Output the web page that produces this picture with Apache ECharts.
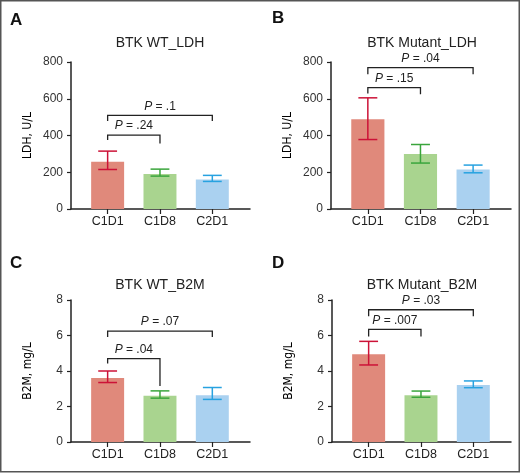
<!DOCTYPE html>
<html>
<head>
<meta charset="utf-8">
<script src="https://cdn.jsdelivr.net/npm/echarts@6/dist/echarts.min.js"></script>
<style>
  html, body { margin: 0; padding: 0; background: #fff; }
  #chart { width: 520px; height: 474px; }
</style>
</head>
<body>
<div id="chart"></div>
<script>
// categories on the x axis
var categories = ['C1D1', 'C1D8', 'C2D1'];

// panel A: BTK WT, LDH (U/L)
var wtLdhMean = [257, 190, 161];
var wtLdhLow = [215, 179, 150];
var wtLdhHigh = [315, 217, 183];
// panel B: BTK Mutant, LDH
var mutLdhMean = [489, 299, 215];
var mutLdhLow = [378, 250, 197];
var mutLdhHigh = [605, 351, 239];
// panel C: BTK WT, B2M (mg/L)
var wtB2mMean = [3.6, 2.6, 2.64];
var wtB2mLow = [3.35, 2.47, 2.4];
var wtB2mHigh = [4.0, 2.88, 3.07];
// panel D: BTK Mutant, B2M
var mutB2mMean = [4.94, 2.63, 3.21];
var mutB2mLow = [4.34, 2.52, 3.06];
var mutB2mHigh = [5.67, 2.87, 3.44];

// comparison brackets: C1D1 vs C1D8, C1D1 vs C2D1
var bracketTo = [1, 2];
var wtLdhBracketY = [402, 510];
var wtLdhLegLeft = [375, 479];
var wtLdhLegRight = [357, 479];
var wtLdhP = ['.24', '.1'];

var mutLdhBracketY = [661, 769];
var mutLdhLegLeft = [628, 733];
var mutLdhLegRight = [624, 733];
var mutLdhP = ['.15', '.04'];

var wtB2mBracketY = [4.7, 6.25];
var wtB2mLegLeft = [4.42, 5.92];
var wtB2mLegRight = [3.16, 5.92];
var wtB2mP = ['.04', '.07'];

var mutB2mBracketY = [6.35, 7.45];
var mutB2mLegLeft = [5.95, 7.08];
var mutB2mLegRight = [5.95, 7.08];
var mutB2mP = ['.007', '.03'];

var yTicksLdh = [0, 800, 200];
var yTicksB2m = [0, 8, 2];

var barColors = ['#e0897b', '#a9d48f', '#aad1f0'];
var errColors = ['#cc1237', '#3aa53c', '#27a2e0'];

var myChart = echarts.init(document.getElementById('chart'));

var panels = [
  { letter: 'A', title: 'BTK WT_LDH', yName: 'LDH, U/L', y: yTicksLdh, mean: wtLdhMean, lo: wtLdhLow, hi: wtLdhHigh,
    by: wtLdhBracketY, bl: wtLdhLegLeft, br: wtLdhLegRight, p: wtLdhP,
    grid: { left: 71, top: 62, width: 179, height: 147 }, lx: 10, ly: 12, tx: 160, ty: 36 },
  { letter: 'B', title: 'BTK Mutant_LDH', yName: 'LDH, U/L', y: yTicksLdh, mean: mutLdhMean, lo: mutLdhLow, hi: mutLdhHigh,
    by: mutLdhBracketY, bl: mutLdhLegLeft, br: mutLdhLegRight, p: mutLdhP,
    grid: { left: 331, top: 62, width: 180, height: 147 }, lx: 272, ly: 10, tx: 422, ty: 36 },
  { letter: 'C', title: 'BTK WT_B2M', yName: 'B2M, mg/L', y: yTicksB2m, mean: wtB2mMean, lo: wtB2mLow, hi: wtB2mHigh,
    by: wtB2mBracketY, bl: wtB2mLegLeft, br: wtB2mLegRight, p: wtB2mP,
    grid: { left: 71, top: 300, width: 179, height: 142 }, lx: 10, ly: 255, tx: 160, ty: 278 },
  { letter: 'D', title: 'BTK Mutant_B2M', yName: 'B2M, mg/L', y: yTicksB2m, mean: mutB2mMean, lo: mutB2mLow, hi: mutB2mHigh,
    by: mutB2mBracketY, bl: mutB2mLegLeft, br: mutB2mLegRight, p: mutB2mP,
    grid: { left: 332, top: 300, width: 179, height: 142 }, lx: 272, ly: 255, tx: 422, ty: 278 }
];

var grids = [], xAxes = [], yAxes = [], series = [], titles = [];

panels.forEach(function (pn, i) {
  grids.push(pn.grid);
  titles.push({
    text: pn.letter, left: pn.lx, top: pn.ly, padding: 0,
    textStyle: { fontFamily: 'Liberation Sans', fontWeight: 'bold', fontSize: 17, color: '#111' }
  });
  titles.push({
    text: pn.title, left: pn.tx, top: pn.ty, textAlign: 'center', padding: 0,
    textStyle: { fontFamily: 'Liberation Sans', fontWeight: 'normal', fontSize: 14, color: '#222' }
  });
  xAxes.push({
    type: 'value', gridIndex: i, min: -0.7, max: 2.72,
    splitLine: { show: false },
    axisLine: { show: true, onZero: false, lineStyle: { color: '#222', width: 1.5 } },
    axisTick: { show: true, customValues: [0, 1, 2], length: 5, lineStyle: { color: '#222', width: 1.2 } },
    axisLabel: {
      customValues: [0, 1, 2], margin: 6,
      fontFamily: 'Liberation Sans', fontSize: 12.5, color: '#222',
      formatter: function (v) { return categories[Math.round(v)]; }
    }
  });
  yAxes.push({
    type: 'value', gridIndex: i, min: pn.y[0], max: pn.y[1], interval: pn.y[2],
    name: pn.yName, nameLocation: 'middle', nameGap: 37, nameRotate: 90,
    nameTextStyle: { fontFamily: 'DejaVu Sans Condensed', fontSize: 12, color: '#000' },
    splitLine: { show: false },
    axisLine: { show: true, onZero: false, lineStyle: { color: '#222', width: 1.5 } },
    axisTick: { show: true, length: 4, lineStyle: { color: '#222', width: 1.2 } },
    axisLabel: { fontFamily: 'Liberation Sans', fontSize: 12, color: '#333', margin: 8 }
  });

  // bars
  series.push({
    type: 'custom', xAxisIndex: i, yAxisIndex: i,
    data: pn.mean.map(function (m, k) { return [k, m]; }),
    renderItem: function (params, api) {
      var k = api.value(0);
      var top = api.coord([k, api.value(1)]);
      var base = api.coord([k, 0]);
      var w = api.size([0.63, 0])[0];
      return {
        type: 'rect',
        shape: { x: top[0] - w / 2, y: top[1], width: w, height: base[1] - top[1] },
        style: { fill: barColors[k] }
      };
    }
  });

  // error bars
  series.push({
    type: 'custom', xAxisIndex: i, yAxisIndex: i, z: 3,
    data: pn.mean.map(function (m, k) { return [k, pn.lo[k], pn.hi[k]]; }),
    renderItem: function (params, api) {
      var k = api.value(0);
      var lo = api.coord([k, api.value(1)]);
      var hi = api.coord([k, api.value(2)]);
      var c = api.size([0.36, 0])[0] / 2;
      var st = { stroke: errColors[k], lineWidth: 1.5 };
      return {
        type: 'group',
        children: [
          { type: 'line', shape: { x1: lo[0], y1: lo[1], x2: hi[0], y2: hi[1] }, style: st },
          { type: 'line', shape: { x1: hi[0] - c, y1: hi[1], x2: hi[0] + c, y2: hi[1] }, style: st },
          { type: 'line', shape: { x1: lo[0] - c, y1: lo[1], x2: lo[0] + c, y2: lo[1] }, style: st }
        ]
      };
    }
  });

  // p-value brackets
  series.push({
    type: 'custom', xAxisIndex: i, yAxisIndex: i, z: 4,
    data: pn.by.map(function (y, k) { return [0, bracketTo[k], y, pn.bl[k], pn.br[k]]; }),
    renderItem: function (params, api) {
      var k = params.dataIndex;
      var a = api.coord([api.value(0), api.value(2)]);
      var b = api.coord([api.value(1), api.value(2)]);
      var al = api.coord([api.value(0), api.value(3)]);
      var bl = api.coord([api.value(1), api.value(4)]);
      var st = { stroke: '#222', lineWidth: 1.3 };
      return {
        type: 'group',
        children: [
          { type: 'polyline', shape: { points: [[al[0], al[1]], [a[0], a[1]], [b[0], b[1]], [bl[0], bl[1]]] }, style: Object.assign({ fill: null }, st) },
          {
            type: 'text',
            x: (a[0] + b[0]) / 2, y: a[1] - 3,
            style: {
              text: '{i|P} = ' + pn.p[k],
              rich: { i: { fontStyle: 'italic', fontFamily: 'Liberation Sans', fontSize: 12, fill: '#222' } },
              fontFamily: 'Liberation Sans', fontSize: 12, fill: '#222',
              align: 'center', verticalAlign: 'bottom'
            }
          }
        ]
      };
    }
  });
});

myChart.setOption({
  animation: false,
  backgroundColor: '#fff',
  title: titles,
  grid: grids,
  xAxis: xAxes,
  yAxis: yAxes,
  series: series,
  graphic: [{
    type: 'rect', silent: true,
    shape: { x: 0.75, y: 0.75, width: 518.5, height: 471 },
    style: { fill: null, stroke: '#555', lineWidth: 1.5 }
  }]
});
</script>
</body>
</html>
